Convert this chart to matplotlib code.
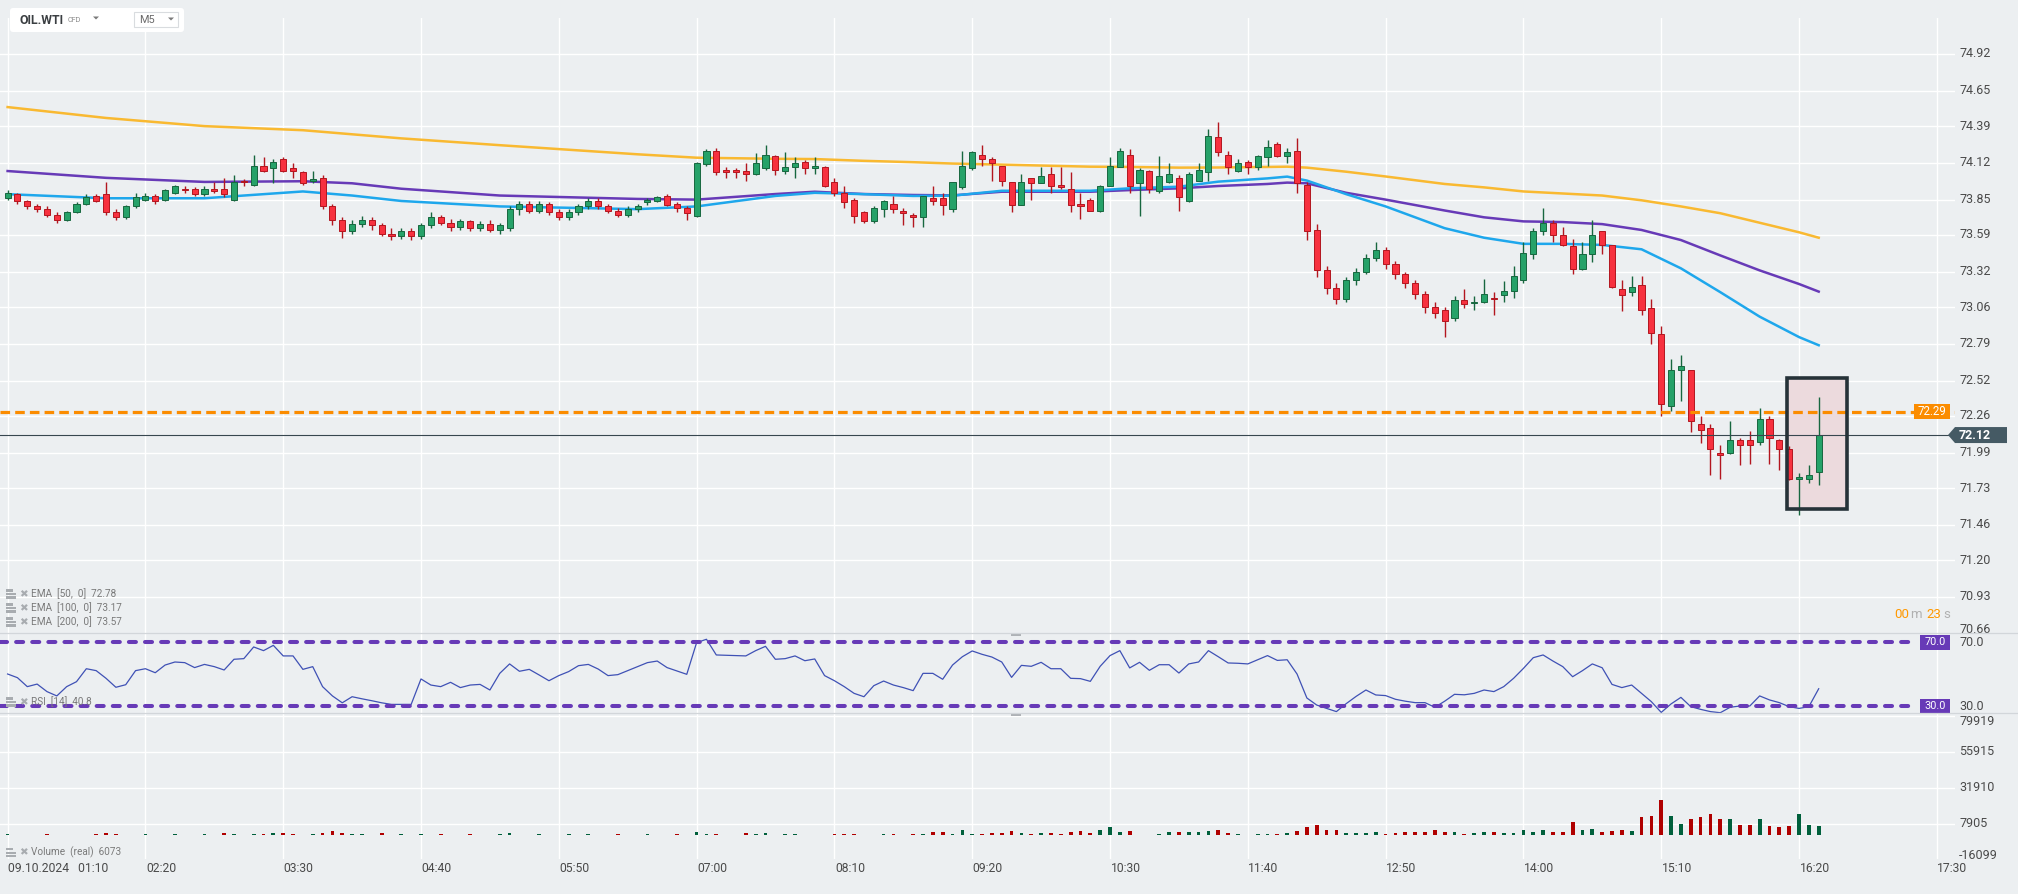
import numpy as np
import matplotlib
matplotlib.use("Agg")
import matplotlib.pyplot as plt
import matplotlib.transforms as mtransforms
from matplotlib.patches import Rectangle, FancyBboxPatch, Polygon
from matplotlib.lines import Line2D

plt.rcParams['font.family'] = ['Roboto', 'DejaVu Sans']

# ----------------------------- DATA -----------------------------
symbol = "OIL.WTI"
instrument_type = "CFD"
timeframe = "M5"
date_label = "09.10.2024"
time_labels = ["01:10", "02:20", "03:30", "04:40", "05:50", "07:00", "08:10",
               "09:20", "10:30", "11:40", "12:50", "14:00", "15:10", "16:20", "17:30"]
bar_minutes = 5

opens = [
    73.86, 73.89, 73.84, 73.80, 73.78, 73.74, 73.70, 73.76, 73.82, 73.88,
    73.89, 73.76, 73.72, 73.80, 73.85, 73.88, 73.85, 73.90, 73.93, 73.93,
    73.89, 73.93, 73.93, 73.85, 73.99, 73.96, 74.10, 74.08, 74.15, 74.08,
    74.05, 73.99, 74.01, 73.80, 73.70, 73.62, 73.67, 73.70, 73.66, 73.60,
    73.58, 73.62, 73.58, 73.66, 73.72, 73.68, 73.65, 73.69, 73.64, 73.67,
    73.63, 73.64, 73.78, 73.82, 73.77, 73.82, 73.76, 73.72, 73.76, 73.80,
    73.84, 73.80, 73.77, 73.74, 73.78, 73.83, 73.84, 73.88, 73.82, 73.79,
    73.73, 74.11, 74.21, 74.07, 74.07, 74.06, 74.04, 74.08, 74.17, 74.06,
    74.09, 74.13, 74.08, 74.09, 73.98, 73.90, 73.85, 73.76, 73.69, 73.78,
    73.82, 73.77, 73.74, 73.72, 73.86, 73.86, 73.78, 73.94, 74.08, 74.18,
    74.15, 74.10, 73.98, 73.81, 74.01, 73.97, 74.04, 73.96, 73.93, 73.82,
    73.85, 73.77, 73.95, 74.09, 74.18, 73.97, 74.06, 73.91, 73.98, 74.01,
    73.84, 73.99, 74.05, 74.31, 74.18, 74.06, 74.13, 74.09, 74.16, 74.26,
    74.17, 74.21, 73.96, 73.63, 73.33, 73.20, 73.12, 73.26, 73.32, 73.42,
    73.48, 73.38, 73.30, 73.24, 73.16, 73.06, 73.04, 72.98, 73.11, 73.09,
    73.10, 73.13, 73.15, 73.18, 73.26, 73.45, 73.62, 73.68, 73.59, 73.51,
    73.34, 73.45, 73.62, 73.52, 73.19, 73.17, 73.22, 73.05, 72.86, 72.33,
    72.60, 72.60, 72.20, 72.17, 71.99, 71.99, 72.08, 72.08, 72.07, 72.24,
    72.08, 72.02, 71.80, 71.80, 71.85]
highs = [
    73.92, 73.90, 73.85, 73.82, 73.80, 73.76, 73.77, 73.83, 73.89, 73.89,
    73.98, 73.78, 73.81, 73.90, 73.90, 73.89, 73.93, 73.96, 73.95, 73.94,
    73.95, 73.98, 74.01, 74.03, 74.00, 74.18, 74.16, 74.15, 74.16, 74.12,
    74.06, 74.06, 74.03, 73.82, 73.72, 73.70, 73.73, 73.72, 73.68, 73.64,
    73.64, 73.64, 73.68, 73.76, 73.74, 73.71, 73.71, 73.70, 73.69, 73.70,
    73.68, 73.80, 73.84, 73.84, 73.84, 73.83, 73.78, 73.78, 73.82, 73.86,
    73.86, 73.82, 73.79, 73.80, 73.82, 73.86, 73.88, 73.89, 73.83, 73.80,
    74.13, 74.22, 74.23, 74.09, 74.08, 74.12, 74.19, 74.25, 74.18, 74.20,
    74.16, 74.14, 74.16, 74.10, 74.01, 73.95, 73.86, 73.77, 73.80, 73.85,
    73.88, 73.79, 73.75, 73.88, 73.95, 73.90, 73.98, 74.21, 74.21, 74.25,
    74.16, 74.10, 73.98, 74.04, 74.01, 74.09, 74.09, 74.09, 74.05, 73.90,
    73.86, 73.96, 74.16, 74.23, 74.22, 74.08, 74.07, 74.17, 74.12, 74.03,
    74.05, 74.12, 74.37, 74.42, 74.21, 74.15, 74.14, 74.18, 74.29, 74.27,
    74.23, 74.30, 73.98, 73.67, 73.36, 73.24, 73.28, 73.35, 73.45, 73.54,
    73.50, 73.40, 73.32, 73.26, 73.18, 73.10, 73.06, 73.14, 73.19, 73.14,
    73.27, 73.17, 73.25, 73.36, 73.54, 73.64, 73.79, 73.70, 73.65, 73.56,
    73.54, 73.70, 73.62, 73.52, 73.26, 73.29, 73.29, 73.12, 72.92, 72.68,
    72.71, 72.60, 72.26, 72.20, 72.05, 72.22, 72.10, 72.15, 72.32, 72.26,
    72.09, 72.04, 71.84, 71.90, 72.40]
lows = [
    73.85, 73.82, 73.78, 73.76, 73.72, 73.68, 73.69, 73.75, 73.81, 73.83,
    73.74, 73.70, 73.71, 73.79, 73.84, 73.82, 73.84, 73.89, 73.90, 73.88,
    73.88, 73.90, 73.87, 73.84, 73.95, 73.95, 74.05, 73.97, 74.05, 74.01,
    73.96, 73.97, 73.78, 73.66, 73.57, 73.60, 73.65, 73.63, 73.58, 73.55,
    73.56, 73.55, 73.56, 73.64, 73.66, 73.62, 73.63, 73.62, 73.62, 73.61,
    73.60, 73.62, 73.74, 73.75, 73.75, 73.74, 73.70, 73.70, 73.74, 73.78,
    73.78, 73.75, 73.72, 73.72, 73.76, 73.81, 73.83, 73.80, 73.76, 73.70,
    73.72, 74.10, 74.03, 74.01, 74.01, 73.99, 74.03, 74.07, 74.03, 74.04,
    74.01, 74.04, 74.04, 73.94, 73.88, 73.79, 73.68, 73.68, 73.68, 73.72,
    73.75, 73.66, 73.65, 73.65, 73.81, 73.74, 73.76, 73.93, 74.07, 74.10,
    73.99, 73.95, 73.76, 73.81, 73.85, 73.97, 73.90, 73.93, 73.76, 73.71,
    73.77, 73.76, 73.95, 74.09, 73.90, 73.73, 73.90, 73.90, 73.97, 73.77,
    73.83, 73.99, 73.99, 74.17, 74.04, 74.05, 74.04, 74.07, 74.10, 74.16,
    74.12, 73.90, 73.55, 73.28, 73.16, 73.08, 73.10, 73.22, 73.30, 73.40,
    73.34, 73.27, 73.20, 73.12, 73.02, 72.98, 72.84, 72.96, 73.05, 73.04,
    73.09, 73.00, 73.10, 73.13, 73.24, 73.41, 73.59, 73.54, 73.51, 73.30,
    73.33, 73.39, 73.45, 73.20, 73.03, 73.14, 73.00, 72.79, 72.26, 72.30,
    72.37, 72.14, 72.06, 71.83, 71.80, 71.98, 71.90, 71.91, 72.05, 71.91,
    71.86, 71.79, 71.53, 71.77, 71.75]
closes = [
    73.90, 73.84, 73.80, 73.78, 73.74, 73.70, 73.76, 73.82, 73.87, 73.84,
    73.76, 73.72, 73.80, 73.87, 73.88, 73.84, 73.92, 73.95, 73.92, 73.89,
    73.93, 73.91, 73.89, 73.98, 73.98, 74.10, 74.06, 74.13, 74.06, 74.06,
    73.97, 74.00, 73.80, 73.70, 73.62, 73.67, 73.70, 73.66, 73.60, 73.58,
    73.62, 73.58, 73.66, 73.72, 73.68, 73.65, 73.69, 73.64, 73.67, 73.63,
    73.66, 73.78, 73.82, 73.77, 73.82, 73.76, 73.72, 73.76, 73.80, 73.84,
    73.80, 73.77, 73.74, 73.78, 73.80, 73.85, 73.87, 73.81, 73.79, 73.75,
    74.12, 74.21, 74.05, 74.05, 74.05, 74.04, 74.12, 74.18, 74.07, 74.09,
    74.12, 74.08, 74.10, 73.95, 73.90, 73.83, 73.73, 73.69, 73.79, 73.84,
    73.78, 73.75, 73.72, 73.88, 73.84, 73.81, 73.98, 74.10, 74.20, 74.15,
    74.12, 73.99, 73.81, 73.98, 73.97, 74.02, 73.95, 73.94, 73.81, 73.80,
    73.77, 73.95, 74.10, 74.21, 73.95, 74.07, 73.93, 74.02, 74.04, 73.87,
    74.04, 74.07, 74.32, 74.20, 74.09, 74.12, 74.09, 74.17, 74.24, 74.17,
    74.20, 73.97, 73.62, 73.33, 73.20, 73.12, 73.26, 73.32, 73.42, 73.48,
    73.38, 73.30, 73.24, 73.16, 73.06, 73.02, 72.96, 73.11, 73.08, 73.10,
    73.16, 73.12, 73.18, 73.29, 73.46, 73.62, 73.68, 73.59, 73.52, 73.34,
    73.45, 73.59, 73.52, 73.21, 73.15, 73.21, 73.04, 72.87, 72.35, 72.60,
    72.63, 72.22, 72.16, 72.02, 71.97, 72.08, 72.05, 72.05, 72.24, 72.10,
    72.02, 71.80, 71.81, 71.83, 72.12]
volumes = [
    600, 500, 450, 500, 600, 450, 500, 450, 500, 600,
    1780, 1110, 500, 450, 600, 500, 450, 600, 500, 450,
    600, 500, 1780, 890, 500, 1110, 600, 1330, 1330, 600,
    500, 1110, 1330, 3100, 1330, 1110, 600, 500, 1330, 450,
    600, 500, 1110, 450, 600, 500, 450, 600, 500, 450,
    600, 1330, 500, 450, 600, 500, 450, 600, 500, 600,
    450, 500, 600, 450, 500, 600, 450, 500, 600, 450,
    2440, 890, 1110, 450, 450, 1780, 1110, 1780, 450, 1110,
    1110, 450, 450, 450, 890, 890, 1110, 450, 450, 1110,
    1110, 450, 1110, 1110, 2000, 2000, 1110, 3330, 1110, 1110,
    1780, 1550, 2670, 1780, 1110, 1780, 1780, 1110, 2000, 2670,
    1550, 3330, 5330, 2000, 2670, 450, 200, 1110, 2440, 2000,
    2000, 2000, 2670, 3330, 1330, 1110, 450, 1110, 1110, 670,
    1550, 2670, 5330, 7100, 3330, 3330, 1780, 1780, 1780, 2440,
    1110, 1780, 2440, 2440, 2440, 3780, 2440, 2440, 1110, 1780,
    2440, 2000, 1780, 1780, 3780, 2440, 3330, 2440, 2440, 9100,
    3780, 4440, 2440, 3100, 3780, 3100, 11990, 13100, 23300, 12650,
    7770, 11100, 11990, 14400, 11100, 11100, 7100, 7100, 11100, 6440,
    5330, 6000, 14400, 6660, 6073]
rsi_values = [
    50.0, 47.7, 42.1, 43.7, 39.0, 36.3, 42.1, 45.2, 53.3, 52.1,
    47.3, 41.7, 43.3, 52.1, 53.3, 50.8, 55.6, 57.5, 57.1, 54.0,
    56.0, 54.6, 52.5, 59.2, 59.6, 66.9, 64.6, 67.9, 61.3, 61.3,
    52.9, 54.6, 42.1, 36.3, 32.0, 35.8, 34.5, 33.3, 32.0, 31.0,
    31.0, 31.0, 46.9, 43.1, 42.1, 44.8, 41.5, 43.1, 43.5, 40.0,
    50.4, 56.3, 51.7, 52.9, 49.4, 45.8, 49.0, 51.5, 55.2, 56.0,
    53.1, 49.0, 49.6, 52.1, 54.6, 57.1, 58.1, 54.0, 51.9, 49.8,
    69.6, 71.7, 61.9, 61.7, 61.5, 61.3, 64.6, 67.3, 59.2, 59.6,
    61.3, 58.3, 59.4, 49.0, 45.8, 42.1, 37.9, 35.8, 42.7, 45.6,
    43.1, 41.5, 39.6, 50.4, 50.4, 46.7, 55.6, 60.8, 64.4, 62.3,
    60.6, 57.5, 47.9, 55.4, 54.8, 57.3, 53.3, 53.3, 47.3, 47.1,
    45.4, 54.8, 61.5, 64.6, 53.8, 57.3, 52.3, 55.8, 55.8, 50.6,
    56.3, 57.5, 64.6, 60.8, 56.9, 56.7, 56.3, 58.9, 61.5, 58.5,
    58.9, 50.0, 35.0, 30.6, 28.5, 26.5, 31.5, 36.0, 40.0, 36.9,
    36.5, 34.2, 33.0, 32.1, 32.1, 29.2, 33.0, 37.3, 37.0, 37.9,
    40.0, 39.0, 42.1, 47.3, 53.5, 60.2, 61.9, 58.1, 54.6, 48.3,
    52.1, 56.3, 53.9, 43.5, 41.5, 43.1, 37.9, 32.7, 26.0, 31.3,
    35.4, 29.6, 27.9, 26.5, 25.8, 29.2, 30.0, 30.0, 36.3, 33.8,
    32.1, 29.6, 28.5, 29.6, 40.8]

ema_times = ["01:10", "02:00", "02:50", "03:40", "04:05", "04:30", "05:20", "06:30",
             "07:00", "07:40", "08:00", "08:25", "08:50", "09:10", "09:35", "10:20",
             "10:40", "11:05", "11:25", "11:50", "12:00", "12:10", "12:30", "12:50",
             "13:20", "13:40", "14:00", "14:20", "14:40", "15:00", "15:20", "15:40",
             "16:00", "16:20", "16:30"]
ema50 = [73.89, 73.86, 73.86, 73.91, 73.88, 73.84, 73.80, 73.78, 73.80, 73.877,
         73.90, 73.89, 73.877, 73.879, 73.915, 73.915, 73.933, 73.945, 73.982, 74.006,
         74.019, 73.99, 73.89, 73.80, 73.64, 73.57, 73.525, 73.525, 73.517, 73.485,
         73.345, 73.17, 72.99, 72.84, 72.78]
ema100 = [74.06, 74.01, 73.98, 73.985, 73.97, 73.93, 73.88, 73.855, 73.85, 73.891,
          73.908, 73.891, 73.884, 73.881, 73.908, 73.908, 73.92, 73.933, 73.95, 73.965,
          73.975, 73.97, 73.90, 73.85, 73.77, 73.72, 73.69, 73.685, 73.67, 73.627,
          73.553, 73.44, 73.33, 73.23, 73.174]
ema200 = [74.53, 74.45, 74.39, 74.36, 74.33, 74.30, 74.25, 74.183, 74.158, 74.15,
          74.148, 74.135, 74.125, 74.115, 74.107, 74.092, 74.09, 74.085, 74.086, 74.09,
          74.092, 74.085, 74.055, 74.02, 73.965, 73.94, 73.91, 73.895, 73.88, 73.845,
          73.80, 73.75, 73.68, 73.61, 73.57]

price_ticks = [70.66, 70.93, 71.20, 71.46, 71.73, 71.99, 72.26, 72.52, 72.79,
               73.06, 73.32, 73.59, 73.85, 74.12, 74.39, 74.65, 74.92]
volume_ticks = [-16099, 7905, 31910, 55915, 79919]
rsi_levels = [70.0, 30.0]
last_price = 72.12
alert_price = 72.29
ema_legend = ["EMA  [50,  0]  72.78", "EMA  [100,  0]  73.17", "EMA  [200,  0]  73.57"]
rsi_legend = "RSI  [14]  40.8"
volume_legend = "Volume  (real)  6073"
countdown = ["00", "m", "23", "s"]

# ----------------------------- STYLE / LAYOUT -----------------------------
W, H = 2018, 894
BG = '#ECEFF1'
GRID = '#FFFFFF'
LABEL_C = '#4a4a4a'
G_FILL, G_EDGE = '#26a269', '#17673f'
R_FILL, R_EDGE = '#f7313f', '#b3161f'
VOL_G, VOL_R = '#00603c', '#b00000'
C_EMA50, C_EMA100, C_EMA200 = '#1ea7ec', '#673AB7', '#f9b931'
C_RSI = '#3F51B5'
C_LEVEL = '#673AB7'
C_ALERT = '#FB8C00'
C_TAG = '#455A64'

PLOT_R = 1955.0        # right edge of the plotting area (px)
X0_PX, BAR_PX = 7.6, 9.843
MAIN_TOP, MAIN_BOT, RSI_BOT, VOL_BOT = 18.0, 633.3, 713.3, 859.3
PRICE_REF_PX, PX_PER_USD = 54.0, 136.09
RSI_PX_PER_UNIT, RSI_70_PX = 1.6, 642.0
VOL_PX_PER_UNIT = 36.0 / 24005.0

ident = mtransforms.IdentityTransform()


def t2i(t):
    hh, mm = map(int, t.split(':'))
    h0, m0 = map(int, time_labels[0].split(':'))
    return ((hh * 60 + mm) - (h0 * 60 + m0)) / bar_minutes


fig = plt.figure(figsize=(W / 100, H / 100), dpi=100)
fig.patch.set_facecolor(BG)
axw = PLOT_R / W
ax_main = fig.add_axes([0, 1 - MAIN_BOT / H, axw, (MAIN_BOT - MAIN_TOP) / H])
ax_rsi = fig.add_axes([0, 1 - RSI_BOT / H, axw, (RSI_BOT - MAIN_BOT) / H])
ax_vol = fig.add_axes([0, 1 - VOL_BOT / H, axw, (VOL_BOT - RSI_BOT) / H])

xmin = -X0_PX / BAR_PX
xmax = (PLOT_R - X0_PX) / BAR_PX
tick_idx = [t2i(t) for t in time_labels]

for ax in (ax_main, ax_rsi, ax_vol):
    ax.set_facecolor(BG)
    ax.set_xlim(xmin, xmax)
    for s in ax.spines.values():
        s.set_visible(False)
    ax.tick_params(length=0, labelbottom=False, labelleft=False,
                   labelright=False, labeltop=False)
    ax.set_xticks(tick_idx)
    ax.set_axisbelow(True)

ax_main.set_yticks(price_ticks)
ax_main.grid(True, color=GRID, lw=1.0)
ax_vol.set_yticks(volume_ticks)
ax_vol.grid(True, color=GRID, lw=1.0)
ax_rsi.set_yticks([])
ax_rsi.grid(True, axis='x', color=GRID, lw=1.0)

ref_price = price_ticks[-1]
ax_main.set_ylim(ref_price - (MAIN_BOT - PRICE_REF_PX) / PX_PER_USD,
                 ref_price + (PRICE_REF_PX - MAIN_TOP) / PX_PER_USD)
ax_rsi.set_ylim(rsi_levels[0] - (RSI_BOT - RSI_70_PX) / RSI_PX_PER_UNIT,
                rsi_levels[0] + (RSI_70_PX - MAIN_BOT) / RSI_PX_PER_UNIT)
vol_base_px = 823.5 + volume_ticks[1] * VOL_PX_PER_UNIT
ax_vol.set_ylim(-(VOL_BOT - vol_base_px) / VOL_PX_PER_UNIT,
                (vol_base_px - RSI_BOT) / VOL_PX_PER_UNIT)

# ----------------------------- MAIN PANEL -----------------------------
o = np.array(opens); h = np.array(highs); l = np.array(lows); c = np.array(closes)
n = len(c)
idx = np.arange(n)
up = c >= o
fill_cols = np.where(up, G_FILL, R_FILL)
edge_cols = np.where(up, G_EDGE, R_EDGE)

# selection box (behind candles)
box_x0, box_x1, box_y0, box_y1 = 180.8, 186.9, 71.575, 72.54
ax_main.add_patch(Rectangle((box_x0, box_y0), box_x1 - box_x0, box_y1 - box_y0,
                            fc='#ecdadd', ec='none', zorder=1.5))

ema_x = [t2i(t) for t in ema_times]
ax_main.plot(ema_x, ema200, color=C_EMA200, lw=1.8, zorder=2, solid_joinstyle='round')
ax_main.plot(ema_x, ema100, color=C_EMA100, lw=1.8, zorder=2, solid_joinstyle='round')
ax_main.plot(ema_x, ema50, color=C_EMA50, lw=1.8, zorder=2, solid_joinstyle='round')

ax_main.vlines(idx, l, h, colors=edge_cols, lw=1.0, zorder=3)
body_b = np.minimum(o, c)
body_h = np.maximum(np.abs(c - o), 0.008)
ax_main.bar(idx, body_h, bottom=body_b, width=0.62, color=fill_cols,
            edgecolor=edge_cols, linewidth=0.7, zorder=4)

ax_main.add_patch(Rectangle((box_x0, box_y0), box_x1 - box_x0, box_y1 - box_y0,
                            fill=False, ec='#263238', lw=2.6, zorder=6))

ax_main.axhline(alert_price, color=C_ALERT, lw=2.3, dashes=(3.0, 1.6), zorder=5)
ax_main.axhline(last_price, color='#37474F', lw=0.8, zorder=5)

# right-hand price labels
for p in price_ticks:
    dy = 3.8 if p == price_ticks[0] else 0
    tr = mtransforms.offset_copy(ax_main.get_yaxis_transform(), fig=fig,
                                 x=4, y=dy, units='dots')
    ax_main.text(1.0, p, f"{p:.2f}", transform=tr, ha='left', va='center',
                 fontsize=9, color=LABEL_C, clip_on=False)

ytr = ax_main.get_yaxis_transform()
# alert label (orange)
hh = 7.5 / PX_PER_USD
ax_main.add_patch(Rectangle((1914 / PLOT_R, alert_price - hh), 36 / PLOT_R, 2 * hh,
                            transform=ytr, fc=C_ALERT, ec='none', clip_on=False, zorder=8))
ax_main.text(1932 / PLOT_R, alert_price, f"{alert_price:.2f}", transform=ytr,
             ha='center', va='center', fontsize=8.3, color='white', clip_on=False, zorder=9)
# last price tag
th = 8 / PX_PER_USD
tag = Polygon([(1948 / PLOT_R, last_price), (1955 / PLOT_R, last_price + th),
               (2007 / PLOT_R, last_price + th), (2007 / PLOT_R, last_price - th),
               (1955 / PLOT_R, last_price - th)],
              closed=True, transform=ytr, fc=C_TAG, ec='none', clip_on=False, zorder=8)
ax_main.add_patch(tag)
ax_main.text(1959 / PLOT_R, last_price, f"{last_price:.2f}", transform=ytr,
             ha='left', va='center', fontsize=9, fontweight='bold', color='white',
             clip_on=False, zorder=9)

# ----------------------------- RSI PANEL -----------------------------
ax_rsi.plot(idx, rsi_values, color=C_RSI, lw=0.9, zorder=3)
rtr = ax_rsi.get_yaxis_transform()
for lv in rsi_levels:
    ax_rsi.axhline(lv, xmin=0, xmax=1916 / PLOT_R, color=C_LEVEL, lw=2.9,
                   dashes=(1.75, 2.25), dash_capstyle='round', zorder=4)
    bh = 7.5 / RSI_PX_PER_UNIT
    ax_rsi.add_patch(Rectangle((1920 / PLOT_R, lv - bh), 30 / PLOT_R, 2 * bh,
                               transform=rtr, fc=C_LEVEL, ec='none', clip_on=False, zorder=8))
    ax_rsi.text(1935 / PLOT_R, lv, f"{lv:.1f}", transform=rtr, ha='center', va='center',
                fontsize=7.8, color='white', clip_on=False, zorder=9)
    ax_rsi.text(1959 / PLOT_R, lv, f"{lv:.1f}", transform=rtr, ha='left', va='center',
                fontsize=9, color=LABEL_C, clip_on=False)

# ----------------------------- VOLUME PANEL -----------------------------
vol_cols = np.where(up, VOL_G, VOL_R)
ax_vol.bar(idx, volumes, width=0.38, color=vol_cols, zorder=3)
for v in volume_ticks:
    dy = -6.2 if v == volume_ticks[-1] else (4.0 if v == volume_ticks[0] else 0)
    tr = mtransforms.offset_copy(ax_vol.get_yaxis_transform(), fig=fig,
                                 x=4, y=dy, units='dots')
    ax_vol.text(1.0, v, f"{v}", transform=tr, ha='left', va='center',
                fontsize=9, color=LABEL_C, clip_on=False)

# time labels
ttr = mtransforms.offset_copy(ax_vol.get_xaxis_transform(), fig=fig,
                              x=0.5, y=-(869 - VOL_BOT), units='dots')
for k, t in enumerate(time_labels):
    lab = f"{date_label}   {t}" if k == 0 else t
    ax_vol.text(t2i(t), 0, lab, transform=ttr, ha='left', va='center',
                fontsize=8.7, color=LABEL_C, clip_on=False)

# ----------------------------- OVERLAYS (pixel coords) -----------------------------
def ptext(x, y, s, **kw):
    fig.text(x, H - y, s, transform=ident, **kw)


def prect(x0, y0, x1, y1, **kw):
    fig.add_artist(Rectangle((x0, H - y1), x1 - x0, y1 - y0, transform=ident, **kw))


# panel separators
for ysep in (MAIN_BOT, RSI_BOT):
    fig.add_artist(Line2D([0, W], [H - ysep, H - ysep], transform=ident,
                          color='#d2d6da', lw=0.9))
# resize handles
prect(1011, 633.5, 1021, 636, fc='#aeb2b6', ec='none')
prect(1011, 713.5, 1021, 716, fc='#aeb2b6', ec='none')

# header
fig.add_artist(FancyBboxPatch((10, H - 32), 174, 24, boxstyle='round,pad=0,rounding_size=3',
                              transform=ident, fc='white', ec='none'))
ptext(20, 20, symbol, fontsize=8.8, fontweight='bold', color='#3b3f42', va='center')
ptext(68, 20, instrument_type, fontsize=5.2, color='#8a8a8a', va='center')
fig.add_artist(Polygon([(93, H - 16.5), (99, H - 16.5), (96, H - 19.5)], closed=True,
                       transform=ident, fc='#7a7a7a', ec='none'))
prect(134, 12, 178, 27, fc='white', ec='#d9dcdf', lw=0.8)
ptext(139, 20, timeframe, fontsize=7.8, color='#6a6a6a', va='center')
fig.add_artist(Polygon([(168, H - 17.5), (174, H - 17.5), (171, H - 20.5)], closed=True,
                       transform=ident, fc='#7a7a7a', ec='none'))


# legends
def legend_row(y, s):
    # small "settings" icon: three stacked bars
    for k, dy in enumerate((-3.5, 0, 3.5)):
        prect(6, y + dy - 1.1, 16 if k != 0 else 13, y + dy + 1.1, fc='#a8acb0', ec='none')
    ptext(19.5, y, "\u2716", fontsize=7.5, color='#a8acb0', va='center', family='DejaVu Sans')
    ptext(31, y, s, fontsize=7.2, color='#7a7a7a', va='center')


for k, s in enumerate(ema_legend):
    legend_row(594 + 14 * k, s)
legend_row(702, rsi_legend)
legend_row(852.7, volume_legend)

# countdown
cd_x = [1894, 1910, 1926, 1943]
cd_c = ['#FF9800', '#b0b0b0', '#FF9800', '#b0b0b0']
for x, s, col in zip(cd_x, countdown, cd_c):
    ptext(x, 614, s, fontsize=9.5, color=col, va='center')

fig.savefig("out.png", dpi=100, facecolor=BG)
